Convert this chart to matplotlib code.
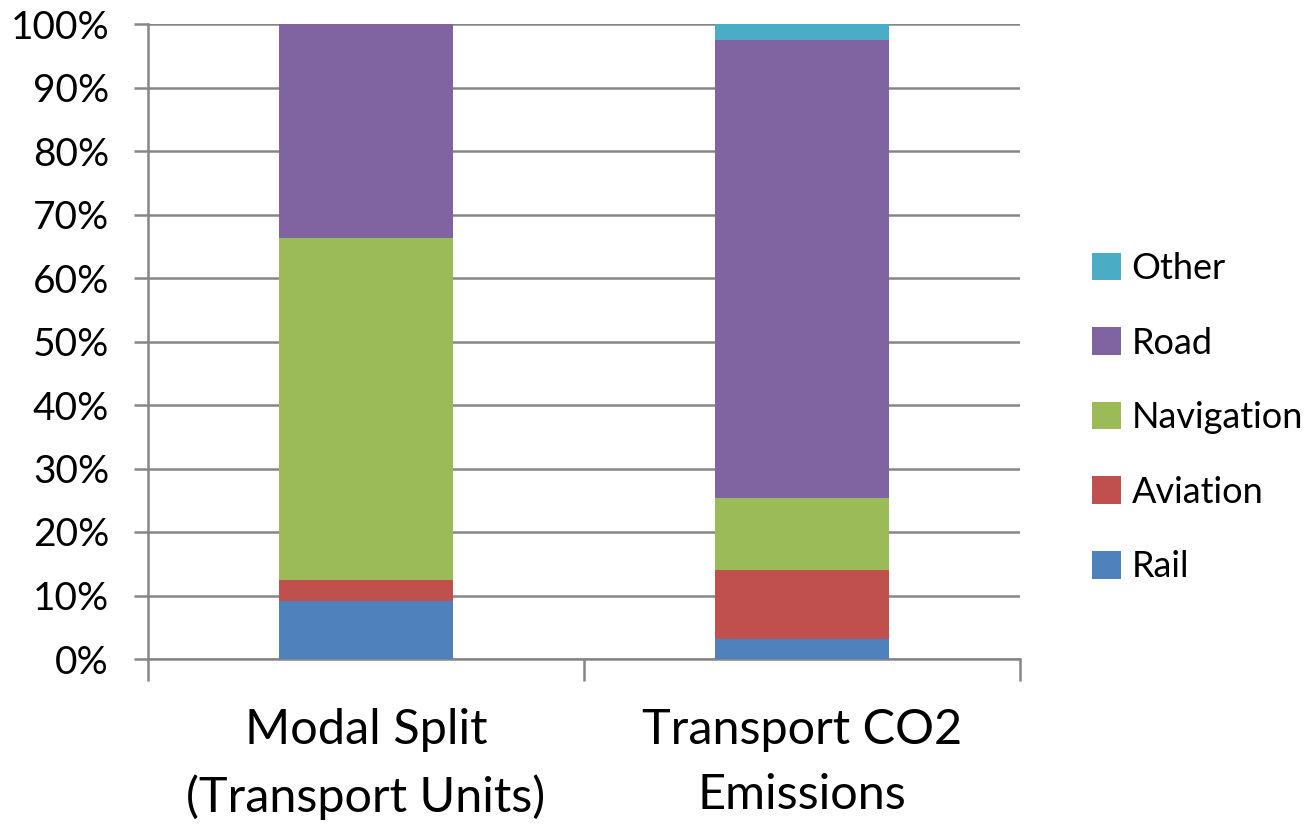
import matplotlib
matplotlib.use("Agg")
import matplotlib.pyplot as plt
from matplotlib.ticker import PercentFormatter

# data (percent shares)
categories = ["Modal Split\n(Transport Units)", "Transport CO2\nEmissions"]
modes = ["Rail", "Aviation", "Navigation", "Road", "Other"]
rail = [9.2, 3.1]
aviation = [3.2, 10.9]
navigation = [53.9, 11.3]
road = [33.7, 72.2]
other = [0.0, 2.5]
yticks = list(range(0, 101, 10))

colors = ["#4f81bd", "#c0504d", "#9bbb59", "#8064a2", "#4bacc6"]
GRID = "#868686"

plt.rcParams["font.family"] = ["Lato", "DejaVu Sans"]

fig = plt.figure(figsize=(13.12, 8.25), dpi=100)
ax = fig.add_axes([148 / 1312, 1 - 659 / 825, (1020 - 148) / 1312, (659 - 24) / 825])

x = list(range(len(categories)))
bottom = [0.0] * len(categories)
handles = []
for name, vals, c in zip(modes, [rail, aviation, navigation, road, other], colors):
    h = ax.bar(x, vals, width=0.4, bottom=bottom, color=c, label=name, zorder=3)
    handles.append(h)
    bottom = [b + v for b, v in zip(bottom, vals)]

ax.set_xlim(-0.5, len(categories) - 0.5)
ax.set_ylim(0, 100)
ax.set_yticks(yticks)
ax.yaxis.set_major_formatter(PercentFormatter(decimals=0))
ax.grid(axis="y", color=GRID, lw=1.8, zorder=0)

for s in ["top", "right"]:
    ax.spines[s].set_visible(False)
for s in ["left", "bottom"]:
    ax.spines[s].set_color(GRID)
    ax.spines[s].set_linewidth(1.8)

ax.set_xticks(x)
ax.set_xticklabels(categories, fontsize=35, linespacing=1.6)
ax.set_xticks([-0.5, 0.5, 1.5], minor=True)
ax.tick_params(axis="x", which="major", length=0, pad=35)
ax.tick_params(axis="x", which="minor", length=16, width=1.8, color=GRID)
ax.tick_params(axis="y", length=10, width=1.8, color=GRID, labelsize=28, pad=18)

leg = ax.legend(handles[::-1], modes[::-1], loc="center left",
                bbox_to_anchor=(1.045, 0.38), frameon=False, fontsize=26,
                handlelength=0.8, handleheight=0.8, handletextpad=0.3,
                labelspacing=1.15)

fig.savefig("out.png", dpi=100, facecolor="white")
